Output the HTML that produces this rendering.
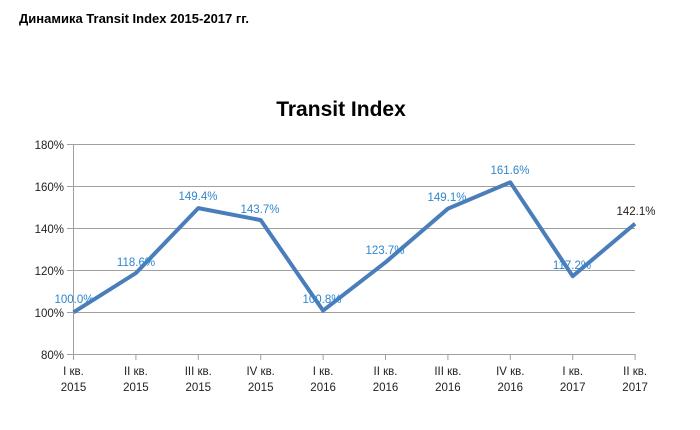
<!DOCTYPE html>
<html><head><meta charset="utf-8"><style>
body{margin:0;background:#fff;width:700px;height:425px;overflow:hidden}
</style></head><body>
<svg width="700" height="425" xmlns="http://www.w3.org/2000/svg" font-family="Liberation Sans, sans-serif">
<text x="19" y="23" font-size="13" font-weight="bold" fill="#000">Динамика Transit Index 2015-2017 гг.</text>
<text x="341" y="116" font-size="21" font-weight="bold" fill="#000" text-anchor="middle">Transit Index</text>
<g stroke="#a0a0a0" stroke-width="1">
<line x1="67" y1="144.5" x2="635" y2="144.5"/>
<line x1="67" y1="186.5" x2="635" y2="186.5"/>
<line x1="67" y1="228.5" x2="635" y2="228.5"/>
<line x1="67" y1="270.5" x2="635" y2="270.5"/>
<line x1="67" y1="312.5" x2="635" y2="312.5"/>
<line x1="67" y1="354.5" x2="635" y2="354.5"/>
<line x1="73.5" y1="144" x2="73.5" y2="360"/>
<line x1="135.9" y1="354" x2="135.9" y2="360"/>
<line x1="198.3" y1="354" x2="198.3" y2="360"/>
<line x1="260.7" y1="354" x2="260.7" y2="360"/>
<line x1="323.1" y1="354" x2="323.1" y2="360"/>
<line x1="385.5" y1="354" x2="385.5" y2="360"/>
<line x1="447.9" y1="354" x2="447.9" y2="360"/>
<line x1="510.3" y1="354" x2="510.3" y2="360"/>
<line x1="572.7" y1="354" x2="572.7" y2="360"/>
<line x1="635.1" y1="354" x2="635.1" y2="360"/>
</g>
<g font-size="11.5" fill="#222" text-anchor="end">
<text x="64" y="149">180%</text><text x="64" y="191">160%</text><text x="64" y="233">140%</text>
<text x="64" y="275">120%</text><text x="64" y="317">100%</text><text x="64" y="359">80%</text>
</g>
<g font-size="11.5" fill="#222" text-anchor="middle">
<text x="73.5" y="375">I кв.</text><text x="73.5" y="391">2015</text>
<text x="135.9" y="375">II кв.</text><text x="135.9" y="391">2015</text>
<text x="198.3" y="375">III кв.</text><text x="198.3" y="391">2015</text>
<text x="260.7" y="375">IV кв.</text><text x="260.7" y="391">2015</text>
<text x="323.1" y="375">I кв.</text><text x="323.1" y="391">2016</text>
<text x="385.5" y="375">II кв.</text><text x="385.5" y="391">2016</text>
<text x="447.9" y="375">III кв.</text><text x="447.9" y="391">2016</text>
<text x="510.3" y="375">IV кв.</text><text x="510.3" y="391">2016</text>
<text x="572.7" y="375">I кв.</text><text x="572.7" y="391">2017</text>
<text x="635.1" y="375">II кв.</text><text x="635.1" y="391">2017</text>
</g>
<polyline fill="none" stroke="#4a7ebb" stroke-width="4" stroke-linejoin="round"
points="73.5,312.3 135.9,273.1 198.3,208.1 260.7,220.1 323.1,310.6 385.5,262.3 447.9,208.7 510.3,182.3 572.7,276.2 635.1,223.7"/>
<g font-size="11.5" fill="#2f86cc" text-anchor="middle">
<text x="74" y="303">100.0%</text>
<text x="136" y="266">118.6%</text>
<text x="198" y="200">149.4%</text>
<text x="260" y="213">143.7%</text>
<text x="322" y="303">100.8%</text>
<text x="385" y="254">123.7%</text>
<text x="447" y="201">149.1%</text>
<text x="510" y="174">161.6%</text>
<text x="572" y="269">117.2%</text>
<text x="636" y="215" fill="#222">142.1%</text>
</g>
</svg>
</body></html>
